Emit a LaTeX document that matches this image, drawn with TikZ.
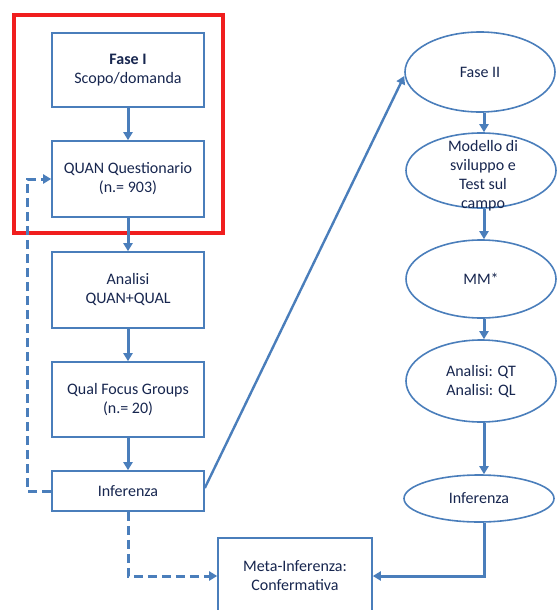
\documentclass[tikz,border=0pt]{standalone}
\usepackage{fontspec}
\setmainfont{Carlito}
\usetikzlibrary{arrows.meta,shapes.geometric}
\definecolor{lineblue}{HTML}{4A7EBB}
\definecolor{txtnavy}{HTML}{17264F}
\definecolor{redframe}{HTML}{F01E1E}
\tikzset{
  box/.style={draw=lineblue,line width=1.6pt,fill=white,text=txtnavy,align=center,
    minimum width=152pt,inner sep=0pt,font=\fontsize{16}{19}\selectfont},
  oval/.style={draw=lineblue,line width=1.6pt,fill=white,ellipse,inner sep=0pt,
    minimum width=150pt},
  txt/.style={text=txtnavy,align=center,font=\fontsize{16}{19}\selectfont},
  conn/.style={draw=lineblue,line width=3pt,-{Triangle[length=8pt,width=9pt]}},
  dconn/.style={conn,dash pattern=on 9pt off 5pt},
}
\begin{document}
\begin{tikzpicture}[x=1pt,y=-1pt]
\useasboundingbox (0,0) rectangle (558,610);
\clip (0,0) rectangle (558,610);
% red frame
\draw[redframe,line width=4pt] (14,15) rectangle (223,233);
% left column
\node[box,minimum height=74pt] (f1) at (128,70) {\textbf{Fase I}\\Scopo/domanda};
\node[box,minimum height=76pt] (quan) at (128,179) {QUAN Questionario\\(n.= 903)};
\node[box,minimum height=76pt] (an) at (128,290) {Analisi\\QUAN+QUAL};
\node[box,minimum height=75pt] (qual) at (128,399.5) {Qual Focus Groups\\(n.= 20)};
\node[box,minimum height=40pt] (inf) at (128,491) {Inferenza};
\node[box,minimum width=154pt,minimum height=76pt] (meta) at (295,576) {Meta-Inferenza:\\Confermativa};
% right column
\node[oval,minimum height=80pt] (f2) at (480,72) {};
\node[txt] at (f2) {Fase II};
\node[oval,minimum height=75pt] (mod) at (481,170.5) {};
\node[txt] at (483,176) {Modello di\\sviluppo e\\Test sul\\campo};
\node[oval,minimum height=78pt] (mm) at (481,279) {};
\node[txt] at (mm) {MM*};
\node[oval,minimum height=82pt] (aq) at (481,381) {};
\node[txt] at (aq) {Analisi: QT\\Analisi: QL};
\node[oval,minimum height=47pt] (inf2) at (479,498.5) {};
\node[txt] at (inf2) {Inferenza};
% left connectors
\draw[conn] (f1) -- (quan);
\draw[conn] (quan) -- (an);
\draw[conn] (an) -- (qual);
\draw[conn] (qual) -- (inf);
% right connectors
\draw[conn] (f2.south -| 484,0) -- (mod.north -| 484,0);
\draw[conn] (mod.south -| 484,0) -- (mm.north -| 484,0);
\draw[conn] (mm.south -| 484,0) -- (aq.north -| 484,0);
\draw[conn] (aq.south -| 484,0) -- (inf2.north -| 484,0);
\draw[conn] (inf2.south -| 484,0) |- (meta.east);
% diagonal
\draw[conn,line width=2.4pt] (inf.east |- 0,488) -- (f2.west |- 0,76);
% dashed feedbacks
\draw[dconn] (inf.west) -- (27,491) |- (quan.west);
\draw[dconn] (inf.south) |- (meta.west);
\end{tikzpicture}
\end{document}
